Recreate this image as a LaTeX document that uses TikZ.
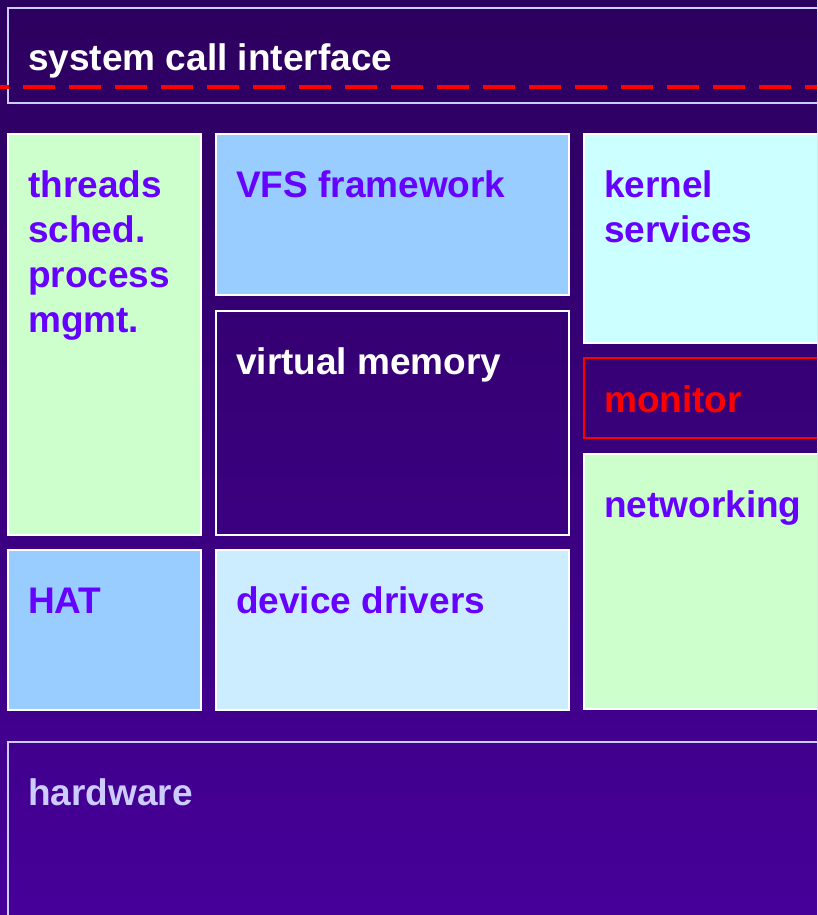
\documentclass[tikz,border=0pt]{standalone}
\usepackage{fontspec}
\setmainfont{Liberation Sans}
\usetikzlibrary{positioning}

\definecolor{bgtop}{HTML}{2C005E}
\definecolor{bgbot}{HTML}{460099}
\definecolor{mint}{HTML}{CCFFCC}
\definecolor{sky}{HTML}{99CCFF}
\definecolor{ice}{HTML}{CCFFFF}
\definecolor{pale}{HTML}{CCECFF}
\definecolor{violet}{HTML}{6600FF}
\definecolor{lav}{HTML}{CCCCFF}

\tikzset{
  blk/.style={rectangle,draw=white,line width=2pt,outer sep=0pt,inner sep=0pt,anchor=north west},
  lbl/.style={anchor=north west,inner sep=0pt,align=left,text=violet,
    font=\fontsize{37}{45}\selectfont\bfseries},
}

\begin{document}
\begin{tikzpicture}[x=1pt,y=1pt,node distance=15pt]
 \useasboundingbox (0,0) rectangle (817,-915);
 \clip (0,0) rectangle (817,-915);
 \shade[top color=bgtop,bottom color=bgbot] (0,0) rectangle (817,-915);

 % top and bottom bands
 \node[blk,draw=lav,minimum width=840pt,minimum height=95pt] (sci) at (8,-8) {};
 \node[blk,draw=lav,minimum width=840pt,minimum height=200pt] (hw) at (8,-742) {};

 % left column
 \node[blk,fill=mint,minimum width=193pt,minimum height=401pt] (threads) at (8,-134) {};
 \node[blk,fill=sky,minimum width=193pt,minimum height=160pt,below=of threads] (hat) {};

 % middle column
 \node[blk,fill=sky,minimum width=353pt,minimum height=161pt,
   right=of threads.north east,anchor=north west] (vfs) {};
 \node[blk,minimum width=353pt,minimum height=224pt,below=16pt of vfs] (vm) {};
 \node[blk,fill=pale,minimum width=353pt,minimum height=160pt,below=of vm] (dev) {};

 % right column
 \node[blk,fill=ice,minimum width=250pt,minimum height=209pt,
   right=of vfs.north east,anchor=north west] (kern) {};
 \node[blk,draw=red,minimum width=250pt,minimum height=80pt,below=of kern] (mon) {};
 \node[blk,fill=mint,minimum width=250pt,minimum height=255pt,below=16pt of mon] (net) {};

 % texts
 \node[lbl,text=white] (sci-t) at ([shift={(20,-30.5)}]sci.north west) {\strut system call interface};
 \node[lbl] (threads-t) at ([shift={(20,-31.5)}]threads.north west) {\strut threads\\sched.\\process\\mgmt.};
 \node[lbl] (hat-t) at ([shift={(20,-31.5)}]hat.north west) {\strut HAT};
 \node[lbl] (vfs-t) at ([shift={(20,-31.5)}]vfs.north west) {\strut VFS framework};
 \node[lbl,text=white] (vm-t) at ([shift={(20,-31.5)}]vm.north west) {\strut virtual memory};
 \node[lbl] (dev-t) at ([shift={(20,-31.5)}]dev.north west) {\strut device drivers};
 \node[lbl] (kern-t) at ([shift={(20,-31.5)}]kern.north west) {\strut kernel\\services};
 \node[lbl,text=red] (mon-t) at ([shift={(20,-23)}]mon.north west) {\strut monitor};
 \node[lbl] (net-t) at ([shift={(20,-31.5)}]net.north west) {\strut networking};
 \node[lbl,text=lav] (hw-t) at ([shift={(20,-31.5)}]hw.north west) {\strut hardware};

 % user / kernel boundary
 \coordinate (cut-l) at (0,-87);
 \coordinate (cut-r) at (817,-87);
 \draw[red,line width=4pt,dash pattern=on 32pt off 14pt,dash phase=23pt] (cut-l) -- (cut-r);
\end{tikzpicture}
\end{document}
